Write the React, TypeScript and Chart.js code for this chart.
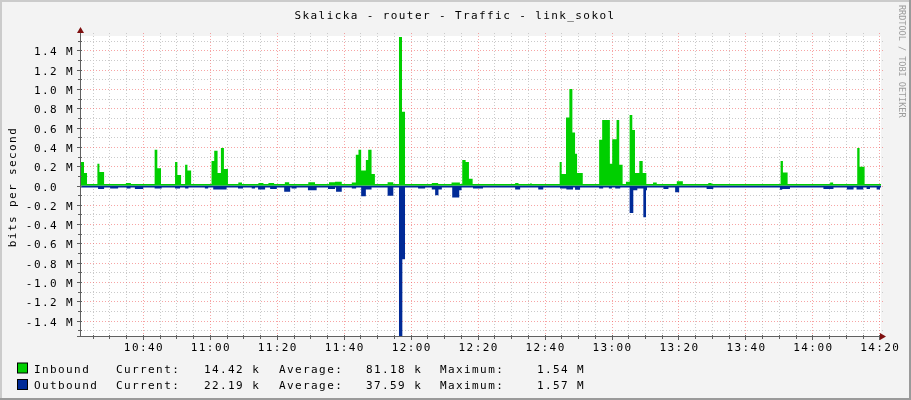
import React, { useEffect, useRef } from 'react';
import { Chart, registerables } from 'chart.js';

Chart.register(...registerables);

// sample start times (minutes after midnight) and rates in Mbit/s, each value holds until the next start
const inboundAt = [
  621.0, 622.4, 623.3, 626.4, 627.0, 628.4, 634.9, 636.4, 643.5, 644.3, 645.4, 649.6, 650.3, 651.4,
  652.6, 653.3, 654.4, 660.5, 661.3, 662.3, 663.3, 664.2, 665.4, 668.5, 669.6, 674.5, 676.0, 677.5,
  679.2, 682.4, 683.7, 689.4, 691.4, 695.6, 697.4, 699.4, 702.4, 703.6, 704.4, 705.2, 706.6, 707.3,
  708.3, 709.3, 713.1, 714.8, 716.5, 717.4, 718.3, 726.3, 728.2, 732.2, 734.7, 735.4, 736.4, 737.4,
  738.5, 751.2, 752.2, 755.6, 756.2, 764.5, 765.1, 766.4, 767.4, 768.3, 769.1, 769.7, 771.4, 776.3,
  777.2, 779.5, 780.2, 781.5, 782.3, 783.3, 784.3, 785.4, 786.2, 787.0, 788.3, 789.3, 790.4, 792.4,
  793.5, 799.5, 801.3, 808.9, 809.9, 830.5, 831.2, 832.6, 845.3, 846.2, 853.4, 854.1, 855.6, 861.0,
];
const inboundMbps = [
  0.245, 0.13, 0.015, 0.225, 0.14, 0.015, 0.025, 0.015, 0.37, 0.18, 0.015, 0.245, 0.11, 0.015,
  0.215, 0.155, 0.015, 0.255, 0.36, 0.13, 0.39, 0.17, 0.015, 0.03, 0.015, 0.025, 0.015, 0.025,
  0.015, 0.035, 0.015, 0.035, 0.015, 0.035, 0.04, 0.015, 0.03, 0.32, 0.37, 0.155, 0.265, 0.37,
  0.12, 0.015, 0.035, 0.015, 1.54, 0.765, 0.015, 0.025, 0.015, 0.03, 0.015, 0.265, 0.245, 0.07,
  0.015, 0.025, 0.015, 0.02, 0.015, 0.245, 0.12, 0.705, 1.0, 0.55, 0.33, 0.13, 0.015, 0.475,
  0.68, 0.225, 0.48, 0.68, 0.215, 0.015, 0.04, 0.73, 0.575, 0.13, 0.255, 0.13, 0.015, 0.03,
  0.015, 0.045, 0.015, 0.025, 0.015, 0.255, 0.135, 0.015, 0.03, 0.015, 0.39, 0.195, 0.015, 0.0144,
];

const outboundAt = [
  621.0, 626.6, 628.4, 630.2, 632.6, 635.1, 636.3, 637.6, 640.1, 643.5, 645.6, 649.6, 651.1, 652.6,
  653.6, 658.5, 659.5, 661.0, 665.0, 668.4, 669.9, 672.5, 673.5, 674.4, 676.5, 678.0, 680.0, 682.2,
  684.0, 684.4, 685.9, 689.3, 691.9, 695.3, 697.4, 697.7, 699.4, 702.4, 703.7, 705.2, 706.6, 708.3,
  713.1, 714.8, 716.5, 717.5, 718.3, 722.2, 724.3, 726.3, 727.3, 728.3, 729.3, 732.4, 734.5, 735.2,
  738.6, 741.6, 751.2, 752.7, 758.1, 759.6, 764.6, 766.5, 768.5, 769.1, 770.6, 776.3, 777.5, 779.2,
  780.1, 781.1, 782.6, 785.4, 786.5, 787.7, 789.5, 790.3, 790.6, 795.5, 797.0, 799.0, 800.2, 808.4,
  810.4, 830.3, 831.0, 833.3, 843.3, 846.3, 850.3, 852.3, 853.2, 855.2, 856.2, 857.2, 859.2, 860.2,
  861.0,
];
const outboundMbps = [
  -0.02, -0.035, -0.02, -0.03, -0.02, -0.03, -0.02, -0.035, -0.02, -0.03, -0.02, -0.03, -0.02, -0.03,
  -0.02, -0.03, -0.02, -0.04, -0.02, -0.03, -0.02, -0.03, -0.02, -0.04, -0.02, -0.035, -0.02, -0.065,
  -0.02, -0.03, -0.02, -0.05, -0.02, -0.035, -0.02, -0.065, -0.02, -0.03, -0.02, -0.11, -0.04, -0.02,
  -0.105, -0.02, -1.57, -0.765, -0.02, -0.03, -0.02, -0.04, -0.1, -0.04, -0.02, -0.125, -0.05, -0.02,
  -0.03, -0.02, -0.04, -0.02, -0.04, -0.02, -0.03, -0.04, -0.02, -0.045, -0.02, -0.03, -0.02, -0.03,
  -0.02, -0.03, -0.02, -0.285, -0.05, -0.03, -0.33, -0.05, -0.02, -0.035, -0.02, -0.07, -0.02, -0.035,
  -0.02, -0.045, -0.035, -0.02, -0.035, -0.02, -0.04, -0.02, -0.04, -0.02, -0.035, -0.02, -0.04, -0.02,
  -0.022,
];

const yTickValues = [-1.4, -1.2, -1.0, -0.8, -0.6, -0.4, -0.2, 0, 0.2, 0.4, 0.6, 0.8, 1.0, 1.2, 1.4];
const xTickMinutes = [640, 660, 680, 700, 720, 740, 760, 780, 800, 820, 840, 860];

const legendNames = ['Inbound', 'Outbound'];
const legendColors = ['#00CF00', '#002A97'];
const currentK = [14.42, 22.19];
const averageK = [81.18, 37.59];
const maximumM = [1.54, 1.57];

const TITLE = 'Skalicka - router - Traffic - link_sokol';
const MONO = '"DejaVu Sans Mono", "Liberation Mono", monospace';

const hhmm = (m: number) => {
  const h = Math.floor(m / 60);
  const mm = Math.round(m - h * 60);
  return `${h}:${mm < 10 ? '0' : ''}${mm}`;
};

const rrdPlugin = {
  id: 'rrdLook',
  beforeDraw(chart: any) {
    const { ctx, chartArea: a } = chart;
    ctx.save();
    ctx.fillStyle = '#F3F3F3';
    ctx.fillRect(0, 0, chart.width, chart.height);
    // frame
    ctx.fillStyle = '#CBCBCB';
    ctx.fillRect(0, 0, chart.width, 2);
    ctx.fillRect(0, 0, 2, chart.height);
    ctx.fillStyle = '#9A9A9A';
    ctx.fillRect(0, chart.height - 2, chart.width, 2);
    ctx.fillRect(chart.width - 2, 0, 2, chart.height);
    ctx.fillStyle = '#FFFFFF';
    ctx.fillRect(a.left, a.top, a.right - a.left, a.bottom - a.top);
    ctx.restore();
  },
  beforeDatasetsDraw(chart: any) {
    const { ctx, chartArea: a, scales } = chart;
    const x = scales.x;
    const y = scales.y;
    ctx.save();
    ctx.lineWidth = 1;
    ctx.setLineDash([1, 2]);
    // minor grid
    ctx.strokeStyle = '#CACACA';
    for (let v = -15; v <= 15; v++) {
      if (v % 2 === 0) continue;
      const py = Math.round(y.getPixelForValue(v / 10)) + 0.5;
      ctx.beginPath();
      ctx.moveTo(a.left, py);
      ctx.lineTo(a.right + 2, py);
      ctx.stroke();
    }
    for (let m = 625; m <= 860; m += 5) {
      if (m % 20 === 0) continue;
      const px = Math.round(x.getPixelForValue(m)) + 0.5;
      ctx.beginPath();
      ctx.moveTo(px, a.top - 3);
      ctx.lineTo(px, a.bottom);
      ctx.stroke();
    }
    // major grid
    ctx.strokeStyle = 'rgba(240, 90, 90, 0.55)';
    yTickValues.forEach((v) => {
      const py = Math.round(y.getPixelForValue(v)) + 0.5;
      ctx.beginPath();
      ctx.moveTo(a.left, py);
      ctx.lineTo(a.right + 2, py);
      ctx.stroke();
    });
    xTickMinutes.forEach((m) => {
      const px = Math.round(x.getPixelForValue(m)) + 0.5;
      ctx.beginPath();
      ctx.moveTo(px, a.top - 3);
      ctx.lineTo(px, a.bottom);
      ctx.stroke();
    });
    ctx.restore();
  },
  afterDatasetsDraw(chart: any) {
    const { ctx, chartArea: a, scales } = chart;
    const x = scales.x;
    const y = scales.y;
    ctx.save();
    ctx.strokeStyle = '#606060';
    ctx.lineWidth = 1;
    ctx.setLineDash([]);
    // axes
    ctx.beginPath();
    ctx.moveTo(a.left - 0.5, a.top - 5);
    ctx.lineTo(a.left - 0.5, a.bottom + 0.5);
    ctx.moveTo(a.left - 4, a.bottom + 0.5);
    ctx.lineTo(a.right + 2, a.bottom + 0.5);
    ctx.stroke();
    // ticks
    ctx.beginPath();
    for (let m = 625; m <= 860; m += 5) {
      const px = Math.round(x.getPixelForValue(m)) + 0.5;
      const len = m % 20 === 0 ? 3 : 2;
      ctx.moveTo(px, a.bottom - 1);
      ctx.lineTo(px, a.bottom + 1 + len);
    }
    for (let v = -15; v <= 15; v++) {
      const py = Math.round(y.getPixelForValue(v / 10)) + 0.5;
      const len = v % 2 === 0 ? 3 : 2;
      ctx.moveTo(a.left - 1 - len, py);
      ctx.lineTo(a.left + 1, py);
    }
    ctx.stroke();
    // arrows
    ctx.fillStyle = '#7F1010';
    ctx.beginPath();
    ctx.moveTo(a.left - 0.5, a.top - 9);
    ctx.lineTo(a.left - 4, a.top - 3);
    ctx.lineTo(a.left + 3, a.top - 3);
    ctx.closePath();
    ctx.fill();
    ctx.beginPath();
    ctx.moveTo(a.right + 5, a.bottom + 0.5);
    ctx.lineTo(a.right - 1, a.bottom - 3);
    ctx.lineTo(a.right - 1, a.bottom + 4);
    ctx.closePath();
    ctx.fill();
    ctx.restore();
  },
  afterDraw(chart: any) {
    const { ctx, chartArea: a, scales } = chart;
    const x = scales.x;
    const y = scales.y;
    ctx.save();
    ctx.fillStyle = '#000000';
    ctx.font = `11px ${MONO}`;
    ctx.letterSpacing = '1.4px';
    ctx.textBaseline = 'alphabetic';

    // title
    ctx.textAlign = 'center';
    ctx.fillText(TITLE, 455, 19);

    // y tick labels
    ctx.textAlign = 'left';
    yTickValues.forEach((v) => {
      const label = v === 0 ? '0.0  ' : `${v.toFixed(1)} M`;
      const w = ctx.measureText(label).width;
      ctx.fillText(label, 74 - w, Math.round(y.getPixelForValue(v)) + 4.5);
    });

    // x tick labels
    ctx.textAlign = 'center';
    xTickMinutes.forEach((m) => {
      ctx.fillText(hhmm(m), x.getPixelForValue(m) + 1, 351);
    });

    // y axis title
    ctx.save();
    ctx.translate(16, 187);
    ctx.rotate(-Math.PI / 2);
    ctx.textAlign = 'center';
    ctx.fillText('bits per second', 0, 0);
    ctx.restore();

    // legend
    ctx.textAlign = 'left';
    legendNames.forEach((name, i) => {
      const base = 372.5 + i * 16.5;
      ctx.fillStyle = legendColors[i];
      ctx.fillRect(17.5, base - 9.5, 10, 10);
      ctx.strokeStyle = '#000000';
      ctx.lineWidth = 1;
      ctx.strokeRect(17.5, base - 9.5, 10, 10);
      ctx.fillStyle = '#000000';
      ctx.fillText(name, 34, base);
      ctx.fillText('Current:', 116, base);
      ctx.fillText(`${currentK[i].toFixed(2)} k`, 204, base);
      ctx.fillText('Average:', 279, base);
      ctx.fillText(`${averageK[i].toFixed(2)} k`, 366, base);
      ctx.fillText('Maximum:', 440, base);
      ctx.fillText(`${maximumM[i].toFixed(2)} M`, 537, base);
    });

    // watermark
    ctx.save();
    ctx.letterSpacing = '0px';
    ctx.font = `8.5px ${MONO}`;
    ctx.fillStyle = '#9C9C9C';
    ctx.translate(899, 5);
    ctx.rotate(Math.PI / 2);
    ctx.textAlign = 'left';
    ctx.fillText('RRDTOOL / TOBI OETIKER', 0, 0);
    ctx.restore();

    ctx.restore();
  },
};

const TrafficChart: React.FC = () => {
  const canvasRef = useRef<HTMLCanvasElement | null>(null);
  const chartRef = useRef<Chart | null>(null);

  useEffect(() => {
    document.body.style.margin = '0';
    if (!canvasRef.current) return;
    const ctx = canvasRef.current.getContext('2d');
    if (chartRef.current) chartRef.current.destroy();

    chartRef.current = new Chart(ctx!, {
      type: 'line',
      data: {
        datasets: [
          {
            label: legendNames[0],
            data: inboundAt.map((t, i) => ({ x: t, y: inboundMbps[i] })),
            backgroundColor: legendColors[0],
            borderColor: legendColors[0],
            borderWidth: 0,
            pointRadius: 0,
            stepped: true,
            fill: 'origin',
          },
          {
            label: legendNames[1],
            data: outboundAt.map((t, i) => ({ x: t, y: outboundMbps[i] })),
            backgroundColor: legendColors[1],
            borderColor: legendColors[1],
            borderWidth: 0,
            pointRadius: 0,
            stepped: true,
            fill: 'origin',
          },
        ],
      },
      options: {
        animation: false,
        responsive: false,
        events: [],
        layout: { padding: { left: 81, top: 36, right: 30, bottom: 64 } },
        plugins: {
          legend: { display: false },
          title: { display: false },
          tooltip: { enabled: false },
        },
        scales: {
          x: { type: 'linear', min: 621.5, max: 860.5, display: false },
          y: { type: 'linear', min: -1.56, max: 1.55, display: false },
        },
      },
      plugins: [rrdPlugin],
    });

    return () => {
      if (chartRef.current) {
        chartRef.current.destroy();
        chartRef.current = null;
      }
    };
  }, []);

  return (
    <div style={{ width: 911, height: 400 }}>
      <canvas ref={canvasRef} width={911} height={400} style={{ display: 'block' }}></canvas>
    </div>
  );
};

export default function App() {
  return <TrafficChart />;
}
